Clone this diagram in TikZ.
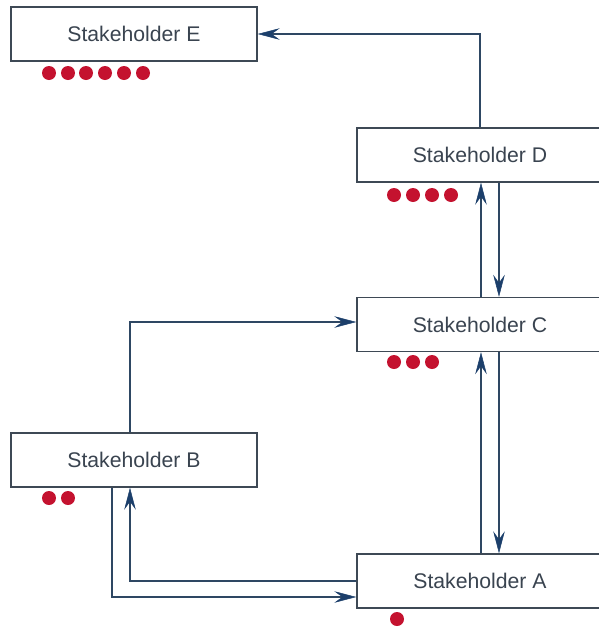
\documentclass[tikz,border=0pt]{standalone}
\usepackage{fontspec}
\setmainfont{Liberation Sans}
\usetikzlibrary{arrows.meta}
\definecolor{boxline}{HTML}{3E4955}
\definecolor{linkline}{HTML}{2E4763}
\definecolor{tipblue}{HTML}{1C3F6B}
\definecolor{labeltext}{HTML}{3A4450}
\definecolor{dotred}{HTML}{C4122F}
\tikzset{
  party/.style={draw=boxline, line width=1.4pt, fill=white, rectangle,
    minimum width=246pt, minimum height=54pt, inner sep=0pt,
    text=labeltext, font=\fontsize{21.2}{24}\selectfont},
  link/.style={draw=linkline, line width=2pt,
    -{Stealth[length=22pt, width=11.5pt, inset=8pt, line width=0.5pt, color=tipblue, fill=tipblue]}},
  dot/.style={circle, fill=dotred, minimum size=14pt, inner sep=0pt}
}
\begin{document}
\begin{tikzpicture}[x=1pt, y=-1pt]
\useasboundingbox (0,0) rectangle (598,627);

% stakeholder boxes
\node[party] (E) at (134,34) {Stakeholder E};
\node[party] (D) at (480,155) {Stakeholder D};
\node[party] (C) at (480,324.5) {Stakeholder C};
\node[party] (B) at (134,460) {Stakeholder B};
\node[party] (A) at (480,581) {Stakeholder A};

% influence dots under each box
\foreach \i/\x in {1/49,2/68,3/86,4/105,5/124,6/143}
  \node[dot] (e\i) at (\x,73) {};
\foreach \i/\x in {1/394,2/413,3/432,4/451}
  \node[dot] (d\i) at (\x,195) {};
\foreach \i/\x in {1/394,2/413,3/432}
  \node[dot] (c\i) at (\x,362) {};
\foreach \i/\x in {1/49,2/68}
  \node[dot] (b\i) at (\x,498) {};
\node[dot] (a1) at (397,619) {};

% connectors
\draw[link] (D.north) |- (E.east);
\draw[link] ([xshift=1pt]C.north) -- ([xshift=1pt]D.south);
\draw[link] ([xshift=19pt]D.south) -- ([xshift=19pt]C.north);
\draw[link] ([xshift=1pt]A.north) -- ([xshift=1pt]C.south);
\draw[link] ([xshift=19pt]C.south) -- ([xshift=19pt]A.north);
\draw[link] ([xshift=-4pt]B.north) |- ([yshift=2.5pt]C.west);
\draw[link] ([xshift=-22pt]B.south) |- ([yshift=-16pt]A.west);
\draw[link] (A.west) -| ([xshift=-4pt]B.south);
\end{tikzpicture}
\end{document}
